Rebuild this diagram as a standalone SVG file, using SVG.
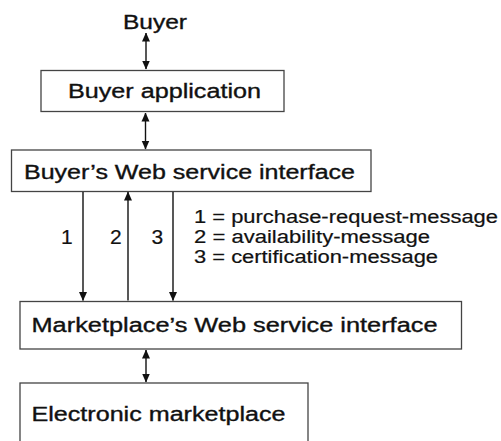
<svg xmlns="http://www.w3.org/2000/svg" width="501" height="441" viewBox="0 0 501 441">
<defs>
<marker id="ah" markerUnits="userSpaceOnUse" markerWidth="9" markerHeight="9" viewBox="0 0 9 9" refX="8.5" refY="4.5" orient="auto-start-reverse">
<path d="M0,0.5 L9,4.5 L0,8.5 Z" fill="#111"/>
</marker>
<style>
.box{fill:#fff;stroke:#444;stroke-width:1.3}
.lbl{font-family:"Liberation Sans",Arial,sans-serif;font-size:20px;fill:#111;stroke:#111;stroke-width:0.35}
.leg{font-family:"Liberation Sans",Arial,sans-serif;font-size:17.5px;fill:#111;stroke:#111;stroke-width:0.2}
.num{font-family:"Liberation Sans",Arial,sans-serif;font-size:21px;fill:#111;stroke:#111;stroke-width:0.2}
.c{stroke:#111;stroke-width:1.4;fill:none}
</style>
</defs>
<rect width="501" height="441" fill="#fff"/>
<g id="buyer">
<text class="lbl" x="123" y="29" textLength="64" lengthAdjust="spacingAndGlyphs">Buyer</text>
</g>
<g id="buyer-application">
<rect class="box" x="41" y="70.5" width="243" height="41"/>
<text class="lbl" x="68" y="97.5" textLength="193" lengthAdjust="spacingAndGlyphs">Buyer application</text>
</g>
<g id="buyer-ws">
<rect class="box" x="11.5" y="150" width="359.5" height="41.5"/>
<text class="lbl" x="24" y="179" textLength="331" lengthAdjust="spacingAndGlyphs">Buyer’s Web service interface</text>
</g>
<g id="marketplace-ws">
<rect class="box" x="20" y="301.5" width="441.5" height="47.5"/>
<text class="lbl" x="31.5" y="332" textLength="406" lengthAdjust="spacingAndGlyphs">Marketplace’s Web service interface</text>
</g>
<g id="electronic-marketplace">
<rect class="box" x="20" y="383" width="288" height="80"/>
<text class="lbl" x="31.5" y="420.5" textLength="254" lengthAdjust="spacingAndGlyphs">Electronic marketplace</text>
</g>
<g id="connectors">
<line class="c" x1="146" y1="33" x2="146" y2="69" marker-start="url(#ah)" marker-end="url(#ah)"/>
<line class="c" x1="145.5" y1="113" x2="145.5" y2="149" marker-start="url(#ah)" marker-end="url(#ah)"/>
<line class="c" x1="83" y1="192" x2="83" y2="300.5" marker-end="url(#ah)"/>
<line class="c" x1="128" y1="300.5" x2="128" y2="192" marker-end="url(#ah)"/>
<line class="c" x1="173" y1="192" x2="173" y2="300.5" marker-end="url(#ah)"/>
<line class="c" x1="146" y1="350" x2="146" y2="382" marker-start="url(#ah)" marker-end="url(#ah)"/>
</g>
<g id="labels">
<text class="num" x="61" y="244">1</text>
<text class="num" x="110" y="244">2</text>
<text class="num" x="151.5" y="244">3</text>
</g>
<g id="legend">
<text class="leg" x="194" y="223" textLength="304" lengthAdjust="spacingAndGlyphs">1 = purchase-request-message</text>
<text class="leg" x="194" y="243" textLength="236" lengthAdjust="spacingAndGlyphs">2 = availability-message</text>
<text class="leg" x="194" y="263" textLength="244" lengthAdjust="spacingAndGlyphs">3 = certification-message</text>
</g>
</svg>
